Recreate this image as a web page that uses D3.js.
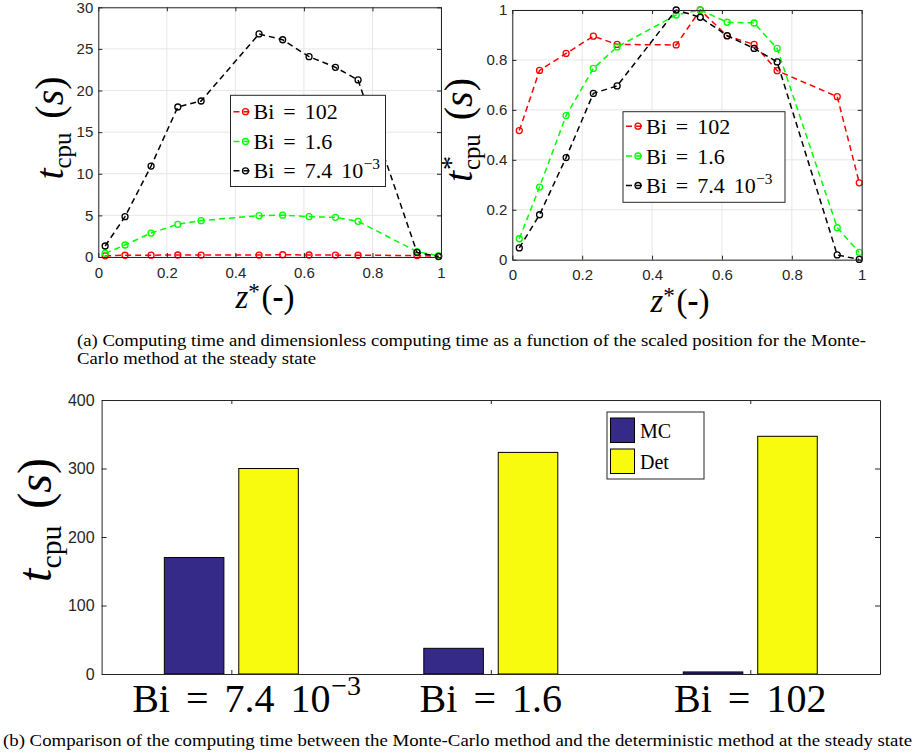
<!DOCTYPE html>
<html>
<head>
<meta charset="utf-8">
<script src="https://cdn.jsdelivr.net/npm/d3@7"></script>
<style>
  body { margin: 0; background: #fff; }
  svg { display: block; }
</style>
</head>
<body>
<svg id="fig" width="918" height="756"></svg>
<script>
// Scaled positions z* along the domain
const zPos = [0.02, 0.078, 0.154, 0.232, 0.300, 0.469, 0.538, 0.615, 0.692, 0.758, 0.930, 0.993];

// Computing time t_cpu (s), Monte-Carlo method
const tcpuBi102 = [0.14, 0.21, 0.22, 0.24, 0.23, 0.23, 0.27, 0.24, 0.23, 0.21, 0.18, 0.08];
const tcpuBi16  = [0.44, 1.44, 2.88, 3.93, 4.37, 4.97, 5.02, 4.85, 4.77, 4.29, 0.64, 0.15];
const tcpuBi74  = [1.32, 4.85, 10.93, 18.02, 18.74, 26.8, 26.1, 24.07, 22.79, 21.27, 0.55, 0.05];

// Dimensionless computing time t*_cpu
const tstarBi102 = [0.517, 0.758, 0.826, 0.895, 0.862, 0.860, 1.0, 0.896, 0.862, 0.757, 0.653, 0.308];
const tstarBi16  = [0.084, 0.291, 0.577, 0.766, 0.852, 0.980, 1.0, 0.951, 0.948, 0.846, 0.128, 0.029];
const tstarBi74  = [0.047, 0.180, 0.409, 0.666, 0.696, 1.0, 0.971, 0.897, 0.846, 0.792, 0.019, 0.001];

// Legend labels (base text + exponent)
const seriesBase = ['Bi = 102', 'Bi = 1.6', 'Bi = 7.4 10'];
const seriesExp  = ['', '', '−3'];
const seriesColor = ['#ff0000', '#00ff00', '#000000'];

// Bar chart: total computing time per Biot number
const catBase = ['Bi = 7.4 10', 'Bi = 1.6', 'Bi = 102'];
const catExp  = ['−3', '', ''];
const methods = ['MC', 'Det'];
const mcTime  = [170, 37.5, 3];
const detTime = [300, 323.5, 347];
const methodColor = ['#352a87', '#f9fb0e'];

const xTickVals = [0, 0.2, 0.4, 0.6, 0.8, 1];
const yTicksA = [0, 5, 10, 15, 20, 25, 30];
const yTicksB = [0, 0.2, 0.4, 0.6, 0.8, 1];
const yTicksBar = [0, 100, 200, 300, 400];

const captionA1 = '(a) Computing time and dimensionless computing time as a function of the scaled position for the Monte-';
const captionA2 = 'Carlo method at the steady state';
const captionB  = '(b) Comparison of the computing time between the Monte-Carlo method and the deterministic method at the steady state';

const SERIF = '"Liberation Serif", "Times New Roman", serif';
const SANS = '"Liberation Sans", Arial, Helvetica, sans-serif';
const AX = '#262626';

const svg = d3.select('#fig');
svg.append('rect').attr('width', 918).attr('height', 756).attr('fill', '#fff');

function styleAxis(sel, fontSize) {
  sel.select('.domain').attr('stroke', AX).attr('stroke-width', 1);
  sel.selectAll('.tick line').attr('stroke', AX).attr('stroke-width', 1);
  sel.selectAll('.tick text')
    .attr('fill', AX)
    .attr('font-family', SANS)
    .attr('font-size', fontSize);
  sel.attr('font-size', null).attr('font-family', null);
}

// Text with an optional superscript appended after the base string
function supText(g, x, y, base, exp, size, anchor, wordSpacing) {
  const t = g.append('text')
    .attr('x', x).attr('y', y)
    .attr('font-family', SERIF)
    .attr('font-size', size)
    .attr('text-anchor', anchor)
    .attr('word-spacing', wordSpacing)
    .attr('fill', '#000')
    .text(base);
  if (exp) {
    const bb = t.node().getBBox();
    g.append('text')
      .attr('x', bb.x + bb.width + size * 0.02)
      .attr('y', y - size * 0.42)
      .attr('font-family', SERIF)
      .attr('font-size', size * 0.7)
      .attr('fill', '#000')
      .text(exp);
  }
}

// Vertical axis title t_cpu (s) / t*_cpu (s)
function tcpuTitle(g, bx, cy, F, star) {
  const t = g.append('text')
    .attr('transform', `translate(${bx},${cy}) rotate(-90)`)
    .attr('text-anchor', 'middle')
    .attr('font-family', SERIF)
    .attr('font-size', F)
    .attr('fill', '#000');
  t.append('tspan').attr('font-style', 'italic').text('t');
  if (star) {
    t.append('tspan').attr('font-size', F * 0.7).attr('dy', -F * 0.3).attr('dx', F * 0.02).text('*');
    t.append('tspan').attr('font-size', F * 0.62).attr('dx', -F * 0.7 * 0.5).attr('dy', F * 0.3 + F * 0.2).text('cpu');
  } else {
    t.append('tspan').attr('font-size', F * 0.62).attr('dy', F * 0.2).text('cpu');
  }
  t.append('tspan').attr('dy', -F * 0.2).attr('dx', F * 0.35).text('(');
  t.append('tspan').attr('font-style', 'italic').text('s');
  t.append('tspan').text(')');
}

// Horizontal axis title z*(-)
function zTitle(g, cx, by, F) {
  const t = g.append('text')
    .attr('x', cx).attr('y', by)
    .attr('text-anchor', 'middle')
    .attr('font-family', SERIF)
    .attr('font-size', F)
    .attr('fill', '#000');
  t.append('tspan').attr('font-style', 'italic').text('z');
  t.append('tspan').attr('font-size', F * 0.7).attr('dy', -F * 0.26).text('*');
  t.append('tspan').attr('dy', F * 0.26).attr('dx', F * 0.05).text('(');
  t.append('tspan').attr('font-weight', 'bold').text('-');
  t.append('tspan').text(')');
}

function linePanel(p) {
  const x = d3.scaleLinear().domain([0, 1]).range([p.left, p.right]);
  const y = d3.scaleLinear().domain([0, p.yMax]).range([p.bottom, p.top]);
  const g = svg.append('g');

  // grid
  g.append('g').selectAll('line').data(xTickVals).join('line')
    .attr('x1', d => x(d)).attr('x2', d => x(d))
    .attr('y1', p.top).attr('y2', p.bottom)
    .attr('stroke', '#e6e6e6').attr('stroke-width', 1);
  g.append('g').selectAll('line').data(p.yTicks).join('line')
    .attr('x1', p.left).attr('x2', p.right)
    .attr('y1', d => y(d)).attr('y2', d => y(d))
    .attr('stroke', '#e6e6e6').attr('stroke-width', 1);

  // series
  const line = d3.line().x((d, i) => x(zPos[i])).y(d => y(d));
  p.series.forEach((vals, k) => {
    g.append('path')
      .attr('d', line(vals))
      .attr('fill', 'none')
      .attr('stroke', seriesColor[k])
      .attr('stroke-width', 1.5)
      .attr('stroke-dasharray', '6,4');
    g.append('g').selectAll('circle').data(vals).join('circle')
      .attr('cx', (d, i) => x(zPos[i]))
      .attr('cy', d => y(d))
      .attr('r', 3)
      .attr('fill', 'none')
      .attr('stroke', seriesColor[k])
      .attr('stroke-width', 1.3);
  });

  // axes, ticks pointing inward on all four sides
  const fmt = d3.format('~g');
  g.append('g').attr('transform', `translate(0,${p.bottom})`)
    .call(d3.axisBottom(x).tickValues(xTickVals).tickSizeInner(-4).tickSizeOuter(0).tickPadding(p.xPad).tickFormat(fmt))
    .call(s => styleAxis(s, 15));
  g.append('g').attr('transform', `translate(0,${p.top})`)
    .call(d3.axisTop(x).tickValues(xTickVals).tickSizeInner(-4).tickSizeOuter(0).tickFormat(''))
    .call(s => styleAxis(s, 15));
  g.append('g').attr('transform', `translate(${p.left},0)`)
    .call(d3.axisLeft(y).tickValues(p.yTicks).tickSizeInner(-4).tickSizeOuter(0).tickPadding(5).tickFormat(fmt))
    .call(s => styleAxis(s, 15));
  g.append('g').attr('transform', `translate(${p.right},0)`)
    .call(d3.axisRight(y).tickValues(p.yTicks).tickSizeInner(-4).tickSizeOuter(0).tickFormat(''))
    .call(s => styleAxis(s, 15));

  // legend
  const L = p.legend;
  g.append('rect')
    .attr('x', L.x0).attr('y', L.y0)
    .attr('width', L.x1 - L.x0).attr('height', L.y1 - L.y0)
    .attr('fill', '#fff').attr('stroke', AX).attr('stroke-width', 1);
  L.rows.forEach((ry, k) => {
    g.append('line')
      .attr('x1', L.x0 + 3).attr('x2', L.x0 + 20)
      .attr('y1', ry).attr('y2', ry)
      .attr('stroke', seriesColor[k]).attr('stroke-width', 1.5)
      .attr('stroke-dasharray', '6,4');
    g.append('circle')
      .attr('cx', L.x0 + 15).attr('cy', ry).attr('r', 3)
      .attr('fill', 'none').attr('stroke', seriesColor[k]).attr('stroke-width', 1.3);
    supText(g, L.x0 + 23, ry + 7.5, seriesBase[k], seriesExp[k], 22, 'start', 3.5);
  });

  return g;
}

// (a) left: computing time
const gA = linePanel({
  left: 98.3, right: 441, top: 7.3, bottom: 257,
  yMax: 30, yTicks: yTicksA, xPad: 10,
  series: [tcpuBi102, tcpuBi16, tcpuBi74],
  legend: { x0: 230.5, x1: 385.5, y0: 95.3, y1: 186.5, rows: [111.7, 141.5, 170.8] }
});
tcpuTitle(gA, 63, 128, 40, false);
zTitle(gA, 265, 308, 33);

// (a) right: dimensionless computing time
const gB = linePanel({
  left: 512.3, right: 861.7, top: 10, bottom: 259.7,
  yMax: 1, yTicks: yTicksB, xPad: 10,
  series: [tstarBi102, tstarBi16, tstarBi74],
  legend: { x0: 623, x1: 785, y0: 111.7, y1: 202.3, rows: [126.2, 156, 185.5] }
});
tcpuTitle(gB, 472, 130, 40, true);
zTitle(gB, 680, 312, 33);

// caption (a)
svg.append('text')
  .attr('x', 77).attr('y', 346)
  .attr('font-family', SERIF).attr('font-size', 16)
  .attr('textLength', 789).attr('lengthAdjust', 'spacingAndGlyphs')
  .attr('fill', '#000').text(captionA1);
svg.append('text')
  .attr('x', 77).attr('y', 364)
  .attr('font-family', SERIF).attr('font-size', 16)
  .attr('textLength', 239).attr('lengthAdjust', 'spacingAndGlyphs')
  .attr('fill', '#000').text(captionA2);

// (b) grouped bar chart
const bar = { left: 101.6, right: 880, top: 400, bottom: 674 };
const gC = svg.append('g');
const xOuter = d3.scaleBand().domain(d3.range(catBase.length)).range([bar.left, bar.right]).paddingInner(0).paddingOuter(0);
const xInner = d3.scaleBand().domain(methods).range([-67, 67]).paddingInner(0.2).paddingOuter(0);
const yBar = d3.scaleLinear().domain([0, 400]).range([bar.bottom, bar.top]);
const center = i => xOuter(i) + xOuter.bandwidth() / 2;

const barData = [];
catBase.forEach((c, i) => {
  barData.push({ i, m: 'MC', v: mcTime[i], color: methodColor[0] });
  barData.push({ i, m: 'Det', v: detTime[i], color: methodColor[1] });
});
gC.append('g').selectAll('rect').data(barData).join('rect')
  .attr('x', d => center(d.i) + xInner(d.m))
  .attr('width', xInner.bandwidth())
  .attr('y', d => yBar(d.v))
  .attr('height', d => yBar(0) - yBar(d.v))
  .attr('fill', d => d.color)
  .attr('stroke', '#000').attr('stroke-width', 1);

const catCenters = d3.range(catBase.length).map(center);
const xCat = d3.scaleIdentity().domain([bar.left, bar.right]);
gC.append('g').attr('transform', `translate(0,${bar.bottom})`)
  .call(d3.axisBottom(xCat).tickValues(catCenters).tickSizeInner(-4).tickSizeOuter(0).tickFormat(''))
  .call(s => styleAxis(s, 16));
gC.append('g').attr('transform', `translate(0,${bar.top})`)
  .call(d3.axisTop(xCat).tickValues(catCenters).tickSizeInner(-4).tickSizeOuter(0).tickFormat(''))
  .call(s => styleAxis(s, 16));
gC.append('g').attr('transform', `translate(${bar.left},0)`)
  .call(d3.axisLeft(yBar).tickValues(yTicksBar).tickSizeInner(-5).tickSizeOuter(0).tickPadding(7))
  .call(s => styleAxis(s, 16));
gC.append('g').attr('transform', `translate(${bar.right},0)`)
  .call(d3.axisRight(yBar).tickValues(yTicksBar).tickSizeInner(-5).tickSizeOuter(0).tickFormat(''))
  .call(s => styleAxis(s, 16));

catBase.forEach((c, i) => {
  supText(gC, center(i), 711.7, c, catExp[i], 40, 'middle', 6);
});

// bar legend
gC.append('rect').attr('x', 607).attr('y', 412).attr('width', 97).attr('height', 67)
  .attr('fill', '#fff').attr('stroke', AX).attr('stroke-width', 1);
methods.forEach((m, k) => {
  const top = 418 + k * 31;
  gC.append('rect').attr('x', 610.5).attr('y', top).attr('width', 24).attr('height', 24.5)
    .attr('fill', methodColor[k]).attr('stroke', '#000').attr('stroke-width', 1);
  gC.append('text').attr('x', 640).attr('y', top + 20)
    .attr('font-family', SERIF).attr('font-size', 20).attr('fill', '#000').text(m);
});

tcpuTitle(gC, 51, 520, 48, false);

// caption (b)
svg.append('text')
  .attr('x', 3).attr('y', 746)
  .attr('font-family', SERIF).attr('font-size', 16)
  .attr('textLength', 909).attr('lengthAdjust', 'spacingAndGlyphs')
  .attr('fill', '#000').text(captionB);
</script>
</body>
</html>
